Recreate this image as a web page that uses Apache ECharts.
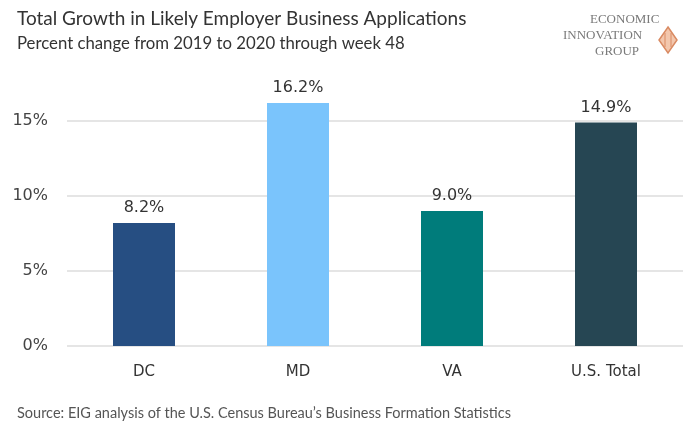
<!DOCTYPE html>
<html>
<head>
<meta charset="utf-8">
<script src="https://cdn.jsdelivr.net/npm/echarts@6/dist/echarts.min.js"></script>
<style>
    html, body { margin: 0; padding: 0; background: #fff; }
    #chart { width: 691px; height: 428px; }
</style>
</head>
<body>
<div id="chart"></div>
<script>
// data
var categories = ["DC", "MD", "VA", "U.S. Total"];
var growth = [8.2, 16.2, 9.0, 14.9];
var barColors = ["#264e82", "#7ac4fc", "#007c7b", "#264653"];
var yTicks = [0, 5, 10, 15];

var mychart = echarts.init(document.getElementById("chart"));
var font = "Lato, 'Open Sans', sans-serif";
var numFont = "'DejaVu Sans', sans-serif";

var option = {
    backgroundColor: "#fff",
    animation: false,
    title: [
        {
            text: "Total Growth in Likely Employer Business Applications",
            left: 12,
            top: 4,
            textStyle: { fontFamily: font, fontSize: 19, fontWeight: "normal", color: "#333" },
        },
        {
            text: "Percent change from 2019 to 2020 through week 48",
            left: 12,
            top: 30,
            textStyle: { fontFamily: font, fontSize: 16.75, fontWeight: "normal", color: "#333" },
        },
        {
            text: "Source: EIG analysis of the U.S. Census Bureau\u2019s Business Formation Statistics",
            left: 12,
            top: 401,
            textStyle: { fontFamily: font, fontSize: 14.5, fontWeight: "normal", color: "#555" },
        },
    ],
    graphic: [
        { type: "text", left: 590, top: 13, style: { text: "ECONOMIC", font: "13px 'Liberation Serif', serif", fill: "#7a7a7a" } },
        { type: "text", left: 563, top: 29, style: { text: "INNOVATION", font: "13px 'Liberation Serif', serif", fill: "#7a7a7a" } },
        { type: "text", left: 595, top: 45, style: { text: "GROUP", font: "13px 'Liberation Serif', serif", fill: "#7a7a7a" } },
        {
            type: "polygon",
            shape: { points: [[668, 27], [677, 40], [668, 53], [659, 40]] },
            style: { fill: "#f3c7ad", stroke: "#d98a62", lineWidth: 1.5 },
        },
        {
            type: "polyline",
            shape: { points: [[665, 33], [665, 47]] },
            style: { stroke: "#d98a62", lineWidth: 1 },
        },
        {
            type: "polyline",
            shape: { points: [[671, 33], [671, 47]] },
            style: { stroke: "#d98a62", lineWidth: 1 },
        },
    ],
    grid: {
        left: 67,
        right: 8,
        top: 46,
        bottom: 82,
    },
    xAxis: {
        type: "category",
        data: categories,
        axisLine: { show: false },
        axisTick: { show: false },
        axisLabel: { margin: 19, fontFamily: numFont, fontSize: 15, color: "#333" },
    },
    yAxis: {
        type: "value",
        min: 0,
        max: 20,
        interval: 5,
        axisLine: { show: false },
        axisTick: { show: false },
        axisLabel: {
            margin: 19,
            fontFamily: numFont,
            fontSize: 16,
            color: "#444",
            formatter: function (v) {
                return yTicks.indexOf(v) >= 0 ? v + "%" : "";
            },
        },
        splitLine: {
            lineStyle: { color: ["#dcdcdc", "#dcdcdc", "#dcdcdc", "#dcdcdc", "rgba(0,0,0,0)"], width: 1.5 },
        },
    },
    series: [
        {
            type: "bar",
            barWidth: 62,
            data: growth.map(function (v, i) {
                return { value: v, itemStyle: { color: barColors[i] } };
            }),
            label: {
                show: true,
                position: "top",
                distance: 7,
                fontFamily: numFont,
                fontSize: 16,
                color: "#333",
                formatter: function (p) {
                    return p.value.toFixed(1) + "%";
                },
            },
        },
    ],
};

mychart.setOption(option);
</script>
</body>
</html>
